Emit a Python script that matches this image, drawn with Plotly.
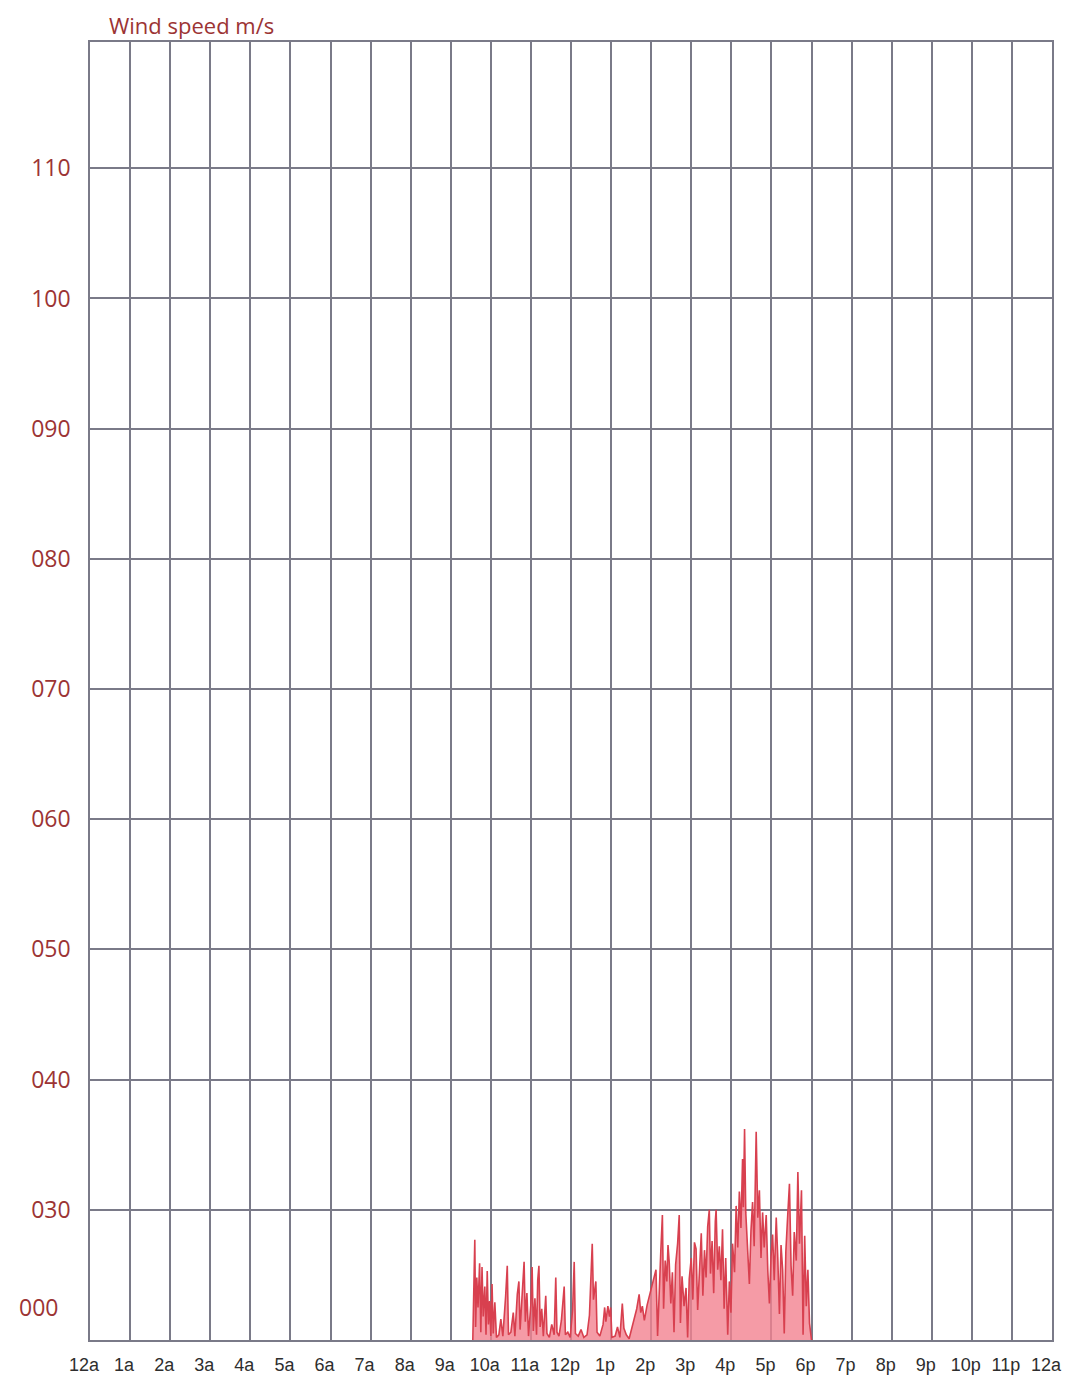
import plotly.graph_objects as go

hour_labels = ["12a", "1a", "2a", "3a", "4a", "5a", "6a", "7a", "8a", "9a", "10a", "11a",
               "12p", "1p", "2p", "3p", "4p", "5p", "6p", "7p", "8p", "9p", "10p", "11p", "12a"]
speed_ticks = [30, 40, 50, 60, 70, 80, 90, 100, 110]
speed_tick_text = ["030", "040", "050", "060", "070", "080", "090", "100", "110"]

# readings: hour of day, wind speed (axis units, 20 = chart floor labelled "000")
hours = [
    9.55, 9.60, 9.62, 9.65, 9.68, 9.72, 9.75, 9.78, 9.81, 9.85, 9.88, 9.91, 9.94, 9.97,
    10.00, 10.03, 10.06, 10.10, 10.14, 10.20, 10.25, 10.30, 10.37, 10.41, 10.44, 10.50,
    10.56, 10.60, 10.66, 10.70, 10.73, 10.79, 10.83, 10.86, 10.90, 10.94,
    11.00, 11.03, 11.06, 11.10, 11.14, 11.17, 11.20, 11.23, 11.27, 11.31, 11.37, 11.40,
    11.46, 11.52, 11.58, 11.62, 11.65, 11.70, 11.76, 11.83, 11.86, 11.92, 11.98,
    12.04, 12.08, 12.11, 12.18, 12.25, 12.32, 12.40, 12.46, 12.53, 12.56, 12.62, 12.65,
    12.72, 12.80, 12.84, 12.87, 12.92, 12.96, 12.99,
    13.02, 13.10, 13.16, 13.22, 13.28, 13.32, 13.38, 13.45, 13.52, 13.58, 13.64, 13.70,
    13.74, 13.78, 13.83, 13.90, 13.97,
    14.05, 14.12, 14.16, 14.20, 14.24, 14.28, 14.31, 14.35, 14.39, 14.42, 14.45, 14.49,
    14.53, 14.57, 14.61, 14.66, 14.70, 14.73, 14.77, 14.82, 14.87, 14.91, 14.95,
    15.00, 15.04, 15.08, 15.12, 15.16, 15.20, 15.25, 15.29, 15.33, 15.37, 15.41, 15.45,
    15.48, 15.52, 15.56, 15.60, 15.62, 15.66, 15.70, 15.74, 15.78, 15.82, 15.86, 15.91,
    15.95, 15.99,
    16.03, 16.08, 16.12, 16.16, 16.20, 16.24, 16.28, 16.30, 16.33, 16.36, 16.40, 16.45,
    16.49, 16.53, 16.57, 16.60, 16.62, 16.66, 16.70, 16.74, 16.78, 16.82, 16.87, 16.91,
    16.95, 16.99,
    17.03, 17.07, 17.12, 17.16, 17.20, 17.24, 17.28, 17.32, 17.36, 17.40, 17.45, 17.49,
    17.53, 17.57, 17.62, 17.66, 17.70, 17.75, 17.79, 17.83, 17.87, 17.91, 17.95, 18.00,
]
speeds = [
    20.0, 27.7, 21.0, 24.8, 22.5, 25.9, 20.6, 25.6, 21.8, 24.1, 20.4, 25.3, 21.2, 23.0,
    20.3, 24.3, 20.5, 22.9, 20.2, 20.4, 21.6, 20.3, 23.4, 25.7, 20.4, 20.6,
    22.1, 20.3, 23.5, 24.5, 20.8, 24.3, 26.0, 21.4, 23.6, 20.3,
    22.8, 25.6, 20.7, 23.2, 20.4, 24.6, 25.7, 21.0, 22.4, 20.3, 23.4, 20.5,
    20.2, 21.2, 20.4, 24.8, 20.6, 20.3, 21.5, 24.1, 20.4, 20.6, 20.2,
    22.3, 26.0, 20.5, 20.3, 20.8, 20.2, 20.4, 21.9, 27.4, 23.1, 24.5, 20.6,
    20.3, 21.2, 22.5, 21.4, 22.6, 21.8, 22.5,
    20.2, 20.3, 21.0, 20.2, 22.8, 20.9, 20.4, 20.1, 20.9, 21.8, 22.4, 23.5,
    22.1, 22.6, 21.5, 22.7, 23.6,
    24.6, 25.4, 20.3, 24.2, 26.8, 29.6, 22.4, 26.1, 24.5, 27.3, 26.0, 22.8,
    25.2, 20.6, 25.8, 27.4, 29.6, 21.3, 24.9, 22.6, 24.0, 20.2, 24.7,
    26.3, 23.1, 27.5, 27.0, 22.3, 25.6, 28.2, 23.4, 26.9, 24.8, 28.7, 30.0,
    25.1, 27.6, 23.6, 29.1, 30.0, 25.4, 27.2, 24.6, 28.5, 22.4, 26.3, 20.4,
    24.5, 22.1,
    27.4, 25.2, 30.3, 27.1, 31.4, 28.6, 33.9, 30.2, 36.2, 29.8, 27.5, 24.3,
    28.4, 30.6, 27.2, 32.5, 36.0, 29.4, 31.5, 26.3, 29.8, 27.1, 29.6, 25.3,
    22.8, 26.4,
    28.1, 24.6, 29.4, 26.2, 22.0, 27.3, 25.4, 20.5, 26.8, 29.2, 32.0, 25.7,
    23.4, 28.3, 26.1, 32.9, 27.4, 31.5, 20.4, 28.0, 22.6, 25.4, 21.3, 20.0,
]

grid_color = "#7a7a88"
label_red = "#9c3434"

fig = go.Figure()
fig.add_trace(go.Scatter(
    x=hours,
    y=speeds,
    mode="lines",
    line=dict(color="#d8404f", width=1.6),
    fill="tozeroy",
    fillcolor="rgba(242,130,144,0.8)",
    hoverinfo="skip",
))

# page body adds ~8px around the figure, so the size and margins allow for it
fig.update_layout(
    width=1054,
    height=1371,
    margin=dict(l=82, r=10, t=34, b=39),
    paper_bgcolor="white",
    plot_bgcolor="white",
    showlegend=False,
    font=dict(family="Liberation Sans, Arial, sans-serif"),
)

fig.update_xaxes(
    range=[0, 24],
    tickvals=list(range(25)),
    ticktext=hour_labels,
    tickfont=dict(size=18, color="#2e2e2e"),
    ticklabelstandoff=8,
    ticklabelshift=-6,
    ticklabeloverflow="allow",
    automargin=False,
    showgrid=True,
    gridcolor=grid_color,
    gridwidth=1.6,
    showline=True,
    linecolor=grid_color,
    linewidth=1.6,
    mirror=True,
    zeroline=False,
    ticks="",
)

fig.update_yaxes(
    range=[20, 119.7],
    tickvals=speed_ticks,
    ticktext=speed_tick_text,
    tickfont=dict(size=23, color=label_red, family="Open Sans, sans-serif"),
    ticklabelstandoff=13,
    automargin=False,
    showgrid=True,
    gridcolor=grid_color,
    gridwidth=1.6,
    showline=True,
    linecolor=grid_color,
    linewidth=1.6,
    mirror=True,
    zeroline=False,
    ticks="",
)

# floor label sits a little above the bottom edge in the original
fig.add_annotation(
    x=0, xref="paper", xanchor="right", xshift=-30,
    y=22.5, yref="y", yanchor="middle",
    text="000", showarrow=False,
    font=dict(size=23, color=label_red, family="Open Sans, sans-serif"),
)

fig.add_annotation(
    x=0.018, xref="paper", xanchor="left",
    y=1.013, yref="paper", yanchor="middle",
    text="Wind speed m/s", showarrow=False,
    font=dict(size=22, color=label_red, family="Open Sans, sans-serif"),
)

fig.write_html("out.html")
